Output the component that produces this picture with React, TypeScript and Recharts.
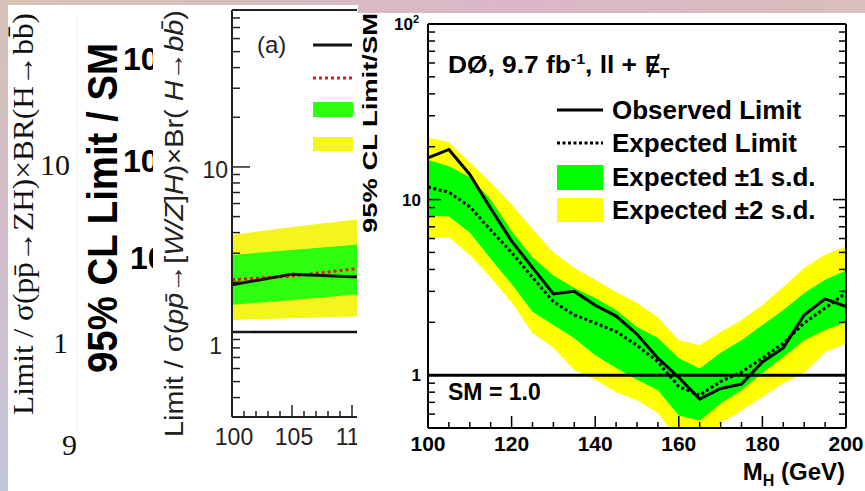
import React from 'react';
import { ComposedChart, Area, Line, XAxis, YAxis, ReferenceLine } from 'recharts';

// ---------------- Main DØ chart data ----------------
const massPoints = [100, 105, 110, 115, 120, 125, 130, 135, 140, 145, 150, 155, 160, 165, 170, 175, 180, 185, 190, 195, 200];
const observedLimit = [17.3, 19.3, 13.9, 8.9, 5.8, 4.1, 2.9, 3.0, 2.5, 2.17, 1.71, 1.25, 0.97, 0.73, 0.84, 0.89, 1.19, 1.43, 2.2, 2.72, 2.46];
const expectedLimit = [11.8, 11.0, 9.1, 6.7, 5.0, 3.6, 2.62, 2.2, 1.98, 1.77, 1.48, 1.19, 0.86, 0.77, 0.92, 1.04, 1.25, 1.52, 1.98, 2.41, 2.94];
const oneSigmaLow = [8.1, 8.0, 6.5, 4.6, 3.3, 2.3, 1.93, 1.62, 1.3, 1.1, 0.94, 0.82, 0.59, 0.55, 0.69, 0.82, 1.03, 1.27, 1.58, 1.81, 2.0];
const oneSigmaHigh = [16.8, 15.5, 13.4, 10.0, 6.6, 4.7, 3.7, 3.14, 2.75, 2.35, 1.88, 1.63, 1.25, 1.09, 1.34, 1.58, 1.93, 2.35, 2.94, 3.49, 3.95];
const twoSigmaLow = [6.06, 6.1, 4.84, 3.6, 2.6, 1.74, 1.43, 1.07, 0.94, 0.8, 0.72, 0.61, 0.42, 0.4, 0.53, 0.63, 0.75, 0.9, 1.03, 1.35, 1.52];
const twoSigmaHigh = [22.6, 21.2, 16.3, 12.5, 9.4, 6.8, 5.0, 4.09, 3.49, 2.98, 2.58, 2.14, 1.58, 1.48, 1.76, 2.06, 2.51, 3.18, 4.09, 4.85, 5.4];

const mainXTicks = [100, 105, 110, 115, 120, 125, 130, 135, 140, 145, 150, 155, 160, 165, 170, 175, 180, 185, 190, 195, 200];
const mainXMajor = [100, 120, 140, 160, 180, 200];
const mainYTicks = [0.5, 0.6, 0.7, 0.8, 0.9, 1, 2, 3, 4, 5, 6, 7, 8, 9, 10, 20, 30, 40, 50, 60, 70, 80, 90, 100];
const mainYLabels: Record<string, string> = { '1': '1', '10': '10', '100': '10' };

const legendLabels = ['Observed Limit', 'Expected Limit', 'Expected \u00b11 s.d.', 'Expected \u00b12 s.d.'];

// ---------------- Panel (a) data ----------------
const panelAMass = [100, 105, 110, 115];
const panelAObserved = [1.93, 2.24, 2.16, 2.2];
const panelAExpected = [2.07, 2.18, 2.4, 2.55];
const panelAOneLow = [1.46, 1.56, 1.68, 1.78];
const panelAOneHigh = [2.93, 3.14, 3.37, 3.6];
const panelATwoLow = [1.18, 1.21, 1.24, 1.3];
const panelATwoHigh = [3.87, 4.33, 4.77, 5.1];
const panelAXTicks = [100, 101, 102, 103, 104, 105, 106, 107, 108, 109, 110, 111, 112];
const panelAXMajor = [100, 105, 110];
const panelAYTicks = [0.4, 0.5, 0.6, 0.7, 0.8, 0.9, 1, 2, 3, 4, 5, 6, 7, 8, 9, 10, 20, 30, 40, 50, 60, 70, 80];

const SANS = '"Liberation Sans", Arial, Helvetica, sans-serif';
const SERIF = '"Liberation Serif", "Times New Roman", serif';

const mainRows = massPoints.map((m, i) => ({
  mass: m,
  observed: observedLimit[i],
  expected: expectedLimit[i],
  band1: [oneSigmaLow[i], oneSigmaHigh[i]],
  band2: [twoSigmaLow[i], twoSigmaHigh[i]],
}));

const panelARows = panelAMass.map((m, i) => ({
  mass: m,
  observed: panelAObserved[i],
  expected: panelAExpected[i],
  band1: [panelAOneLow[i], panelAOneHigh[i]],
  band2: [panelATwoLow[i], panelATwoHigh[i]],
}));

const isDecade = (v: number) => Math.abs(Math.log10(v) - Math.round(Math.log10(v))) < 1e-6;

// ---- main chart ticks ----
const mainBottomTick = (p: any) => {
  const { x, y, payload } = p;
  const v = payload.value;
  const major = mainXMajor.includes(v);
  return (
    <g>
      <line x1={x} x2={x} y1={y} y2={y - (major ? 12 : 6)} stroke="#000" strokeWidth={1.5} />
      {major && (
        <text x={x} y={y + 23} textAnchor="middle" fontSize={21} fontWeight="bold" fontFamily={SANS} fill="#000">
          {v}
        </text>
      )}
    </g>
  );
};
const mainTopTick = (p: any) => {
  const { x, y, payload } = p;
  const major = mainXMajor.includes(payload.value);
  return <line x1={x} x2={x} y1={y} y2={y + (major ? 12 : 6)} stroke="#000" strokeWidth={1.5} />;
};
const mainLeftTick = (p: any) => {
  const { x, y, payload } = p;
  const v = payload.value;
  const major = isDecade(v);
  const lab = mainYLabels[String(v)];
  return (
    <g>
      <line x1={x} x2={x + (major ? 13 : 7)} y1={y} y2={y} stroke="#000" strokeWidth={1.5} />
      {lab && (
        <text x={v === 100 ? x - 15 : x - 7} y={y + 6} textAnchor="end" fontSize={17} fontWeight="bold" fontFamily={SANS} fill="#000">
          {lab}
        </text>
      )}
      {v === 100 && (
        <text x={x - 15} y={y - 1} textAnchor="start" fontSize={11} fontWeight="bold" fontFamily={SANS} fill="#000">
          2
        </text>
      )}
    </g>
  );
};
const mainRightTick = (p: any) => {
  const { x, y, payload } = p;
  const major = isDecade(payload.value);
  return <line x1={x} x2={x - (major ? 13 : 7)} y1={y} y2={y} stroke="#000" strokeWidth={1.5} />;
};

// ---- panel (a) ticks ----
const aBottomTick = (p: any) => {
  const { x, y, payload } = p;
  const v = payload.value;
  const major = panelAXMajor.includes(v);
  return (
    <g>
      <line x1={x} x2={x} y1={y} y2={y - (major ? 12 : 6)} stroke="#222" strokeWidth={1.5} />
      {major && (
        <text x={x + 2} y={y + 28} textAnchor="middle" fontSize={23} fontFamily={SANS} fill="#222">
          {v}
        </text>
      )}
    </g>
  );
};
const aTopTick = (p: any) => {
  const { x, y, payload } = p;
  const major = panelAXMajor.includes(payload.value);
  return <line x1={x} x2={x} y1={y} y2={y + (major ? 12 : 6)} stroke="#222" strokeWidth={1.5} />;
};
const aLeftTick = (p: any) => {
  const { x, y, payload } = p;
  const v = payload.value;
  const major = isDecade(v);
  return (
    <g>
      <line x1={x} x2={x + (major ? 18 : 8)} y1={y} y2={y} stroke="#222" strokeWidth={1.5} />
      {major && (
        <text x={v === 1 ? x - 10 : x - 4} y={v === 1 ? y + 22 : y + 11} textAnchor="end" fontSize={23} fontFamily={SANS} fill="#222">
          {v}
        </text>
      )}
    </g>
  );
};

export default function App() {
  return (
    <div
      style={{
        position: 'absolute',
        left: 0,
        top: 0,
        width: 865,
        height: 491,
        overflow: 'hidden',
        background: 'linear-gradient(to right, #d6c3b4 0%, #d8bcc2 35%, #dbb6c8 60%, #d9bfbc 100%)',
      }}
    >
      {/* left strip */}
      <div
        style={{
          position: 'absolute',
          left: 0,
          top: 0,
          width: 8,
          height: 491,
          background: 'linear-gradient(to bottom, #d5c2b6 0%, #d3bccb 45%, #c3c7da 100%)',
        }}
      />
      {/* white pages */}
      <div style={{ position: 'absolute', left: 8, top: 5, width: 350, height: 486, background: '#fff' }} />
      <div style={{ position: 'absolute', left: 358, top: 13, width: 507, height: 478, background: '#fff' }} />

      {/* left two columns of text */}
      <svg style={{ position: 'absolute', left: 0, top: 0 }} width={160} height={491}>
        <defs>
          <clipPath id="col2clip">
            <rect x={78} y={0} width={75} height={491} />
          </clipPath>
        </defs>
        <line x1={77} x2={77} y1={15} y2={430} stroke="#ececec" strokeWidth={1} />
        <text
          transform="translate(33,214) rotate(-90)"
          textAnchor="middle"
          fontFamily={SERIF}
          fontSize={29}
          textLength={402}
          lengthAdjust="spacingAndGlyphs"
          fill="#111"
        >
          {'Limit / \u03c3(pp\u0304\u2192ZH)\u00d7BR(H\u2192bb\u0304)'}
        </text>
        <text x={70} y={175} textAnchor="end" fontFamily={SERIF} fontSize={30} fill="#111">10</text>
        <text x={68} y={353} textAnchor="end" fontFamily={SERIF} fontSize={30} fill="#111">1</text>
        <text x={77} y={455} textAnchor="end" fontFamily={SERIF} fontSize={30} fill="#111">9</text>
        <g clipPath="url(#col2clip)">
          <text
            transform="translate(117,208) rotate(-90)"
            textAnchor="middle"
            fontFamily={SANS}
            fontWeight="bold"
            fontSize={43}
            textLength={330}
            lengthAdjust="spacingAndGlyphs"
            fill="#000"
          >
            95% CL Limit / SM
          </text>
          <text x={123} y={70} fontFamily={SANS} fontWeight="bold" fontSize={32} fill="#000">10</text>
          <text x={123} y={172} fontFamily={SANS} fontWeight="bold" fontSize={32} fill="#000">10</text>
          <text x={130} y={269} fontFamily={SANS} fontWeight="bold" fontSize={32} fill="#000">10</text>
        </g>
      </svg>

      {/* panel (a) */}
      <div style={{ position: 'absolute', left: 154, top: 0, width: 203, height: 491, overflow: 'hidden' }}>
        <div style={{ position: 'absolute', left: 0, top: 0 }}>
          <ComposedChart width={700} height={491} data={panelARows} margin={{ top: 0, right: 22, bottom: 44, left: 18 }}>
            <XAxis
              xAxisId="bottom"
              dataKey="mass"
              type="number"
              domain={[100, 150]}
              allowDataOverflow
              ticks={panelAXTicks}
              interval={0}
              tick={aBottomTick}
              tickLine={false}
              tickSize={0}
              tickMargin={0}
              height={30}
              axisLine={{ stroke: '#222', strokeWidth: 2 }}
            />
            <XAxis
              xAxisId="top"
              orientation="top"
              type="number"
              domain={[100, 150]}
              allowDataOverflow
              ticks={panelAXTicks}
              interval={0}
              tick={aTopTick}
              tickLine={false}
              tickSize={0}
              tickMargin={0}
              height={10}
              axisLine={{ stroke: '#222', strokeWidth: 2 }}
            />
            <YAxis
              yAxisId="left"
              type="number"
              scale="log"
              domain={[0.305, 89.4]}
              allowDataOverflow
              ticks={panelAYTicks}
              interval={0}
              tick={aLeftTick}
              tickLine={false}
              tickSize={0}
              tickMargin={0}
              width={60}
              axisLine={{ stroke: '#222', strokeWidth: 2 }}
            />
            <Area xAxisId="bottom" yAxisId="left" dataKey="band2" stroke="none" fill="#f5f51e" fillOpacity={1} isAnimationActive={false} />
            <Area xAxisId="bottom" yAxisId="left" dataKey="band1" stroke="none" fill="#2eff10" fillOpacity={1} isAnimationActive={false} />
            <ReferenceLine xAxisId="bottom" yAxisId="left" y={1} stroke="#111" strokeWidth={2.5} />
            <Line xAxisId="bottom" yAxisId="left" dataKey="expected" stroke="#ee1111" strokeWidth={3} strokeDasharray="3 3" dot={false} isAnimationActive={false} />
            <Line xAxisId="bottom" yAxisId="left" dataKey="observed" stroke="#111" strokeWidth={3} dot={false} isAnimationActive={false} />
          </ComposedChart>
        </div>
        <svg style={{ position: 'absolute', left: 0, top: 0 }} width={203} height={491}>
          <text
            transform="translate(29,223.5) rotate(-90)"
            textAnchor="middle"
            fontFamily={SANS}
            fontSize={26}
            textLength={427}
            lengthAdjust="spacingAndGlyphs"
            fill="#222"
          >
            {'Limit / \u03c3('}
            <tspan fontStyle="italic">{'pp\u0304'}</tspan>
            {'\u2192['}
            <tspan fontStyle="italic">W/Z</tspan>
            {']'}
            <tspan fontStyle="italic">H</tspan>
            {')\u00d7Br( '}
            <tspan fontStyle="italic">H</tspan>
            {'\u2192'}
            <tspan fontStyle="italic">{'bb\u0304'}</tspan>
            {')'}
          </text>
          {/* legend (a) */}
          <text x={103} y={53} fontFamily={SANS} fontSize={24} fill="#222">(a)</text>
          <line x1={159} x2={198} y1={45} y2={45} stroke="#111" strokeWidth={3} />
          <line x1={159} x2={198} y1={78} y2={78} stroke="#ee1111" strokeWidth={3} strokeDasharray="3 3" />
          <rect x={159} y={102} width={40} height={15} fill="#2eff10" />
          <rect x={159} y={137} width={40} height={14} fill="#f5f51e" />
        </svg>
      </div>

      {/* main DØ chart */}
      <div style={{ position: 'absolute', left: 360, top: 0 }}>
        <ComposedChart width={505} height={491} data={mainRows} margin={{ top: 14, right: 9, bottom: 33, left: 8 }}>
          <XAxis
            xAxisId="bottom"
            dataKey="mass"
            type="number"
            domain={[100, 200]}
            allowDataOverflow
            ticks={mainXTicks}
            interval={0}
            tick={mainBottomTick}
            tickLine={false}
            tickSize={0}
            tickMargin={0}
            height={30}
            axisLine={{ stroke: '#000', strokeWidth: 2 }}
          />
          <XAxis
            xAxisId="top"
            orientation="top"
            type="number"
            domain={[100, 200]}
            allowDataOverflow
            ticks={mainXTicks}
            interval={0}
            tick={mainTopTick}
            tickLine={false}
            tickSize={0}
            tickMargin={0}
            height={10}
            axisLine={{ stroke: '#000', strokeWidth: 2 }}
          />
          <YAxis
            yAxisId="left"
            type="number"
            scale="log"
            domain={[0.5, 100]}
            allowDataOverflow
            ticks={mainYTicks}
            interval={0}
            tick={mainLeftTick}
            tickLine={false}
            tickSize={0}
            tickMargin={0}
            width={60}
            axisLine={{ stroke: '#000', strokeWidth: 2 }}
          />
          <YAxis
            yAxisId="right"
            orientation="right"
            type="number"
            scale="log"
            domain={[0.5, 100]}
            allowDataOverflow
            ticks={mainYTicks}
            interval={0}
            tick={mainRightTick}
            tickLine={false}
            tickSize={0}
            tickMargin={0}
            width={10}
            axisLine={{ stroke: '#000', strokeWidth: 2 }}
          />
          <Area xAxisId="bottom" yAxisId="left" dataKey="band2" stroke="none" fill="#ffff00" fillOpacity={1} isAnimationActive={false} />
          <Area xAxisId="bottom" yAxisId="left" dataKey="band1" stroke="none" fill="#00ff00" fillOpacity={1} isAnimationActive={false} />
          <ReferenceLine xAxisId="bottom" yAxisId="left" y={1} stroke="#000" strokeWidth={3} />
          <Line xAxisId="bottom" yAxisId="left" dataKey="expected" stroke="#000" strokeWidth={3} strokeDasharray="3 2.5" dot={false} isAnimationActive={false} />
          <Line xAxisId="bottom" yAxisId="left" dataKey="observed" stroke="#000" strokeWidth={3} dot={false} isAnimationActive={false} />
        </ComposedChart>
      </div>

      {/* main chart texts & legend */}
      <svg style={{ position: 'absolute', left: 0, top: 0, pointerEvents: 'none' }} width={865} height={491}>
        <text
          transform="translate(377,123) rotate(-90)"
          textAnchor="middle"
          fontFamily={SANS}
          fontWeight="bold"
          fontSize={20}
          textLength={220}
          lengthAdjust="spacingAndGlyphs"
          fill="#000"
        >
          95% CL Limit/SM
        </text>
        <text x={448} y={73} fontFamily={SANS} fontWeight="bold" fontSize={23} textLength={189} lengthAdjust="spacingAndGlyphs" fill="#000">
          {'D\u00d8, 9.7 fb'}
          <tspan fontSize={14} dy={-9}>-1</tspan>
          <tspan dy={9}>{', ll +'}</tspan>
        </text>
        <text x={645} y={73} fontFamily={SANS} fontWeight="bold" fontSize={23} fill="#000">
          E<tspan fontSize={15} dy={5}>T</tspan>
        </text>
        <line x1={649} x2={659} y1={77} y2={54} stroke="#000" strokeWidth={2} />

        <line x1={557} x2={603} y1={110} y2={110} stroke="#000" strokeWidth={3} />
        <line x1={557} x2={603} y1={143} y2={143} stroke="#000" strokeWidth={3} strokeDasharray="3 2.5" />
        <rect x={557} y={165} width={46} height={25} fill="#00ff00" />
        <rect x={557} y={198} width={46} height={24} fill="#ffff00" />
        {legendLabels.map((t, i) => (
          <text key={t} x={612} y={119 + [0, 33, 67, 100][i]} fontFamily={SANS} fontWeight="bold" fontSize={26} fill="#000">
            {t}
          </text>
        ))}
        <text x={448} y={400} fontFamily={SANS} fontWeight="bold" fontSize={23} fill="#000">SM = 1.0</text>
        <text x={845} y={480} textAnchor="end" fontFamily={SANS} fontWeight="bold" fontSize={24} fill="#000">
          M
          <tspan fontSize={16} dy={6}>H</tspan>
          <tspan dy={-6}> (GeV)</tspan>
        </text>
      </svg>
    </div>
  );
}
